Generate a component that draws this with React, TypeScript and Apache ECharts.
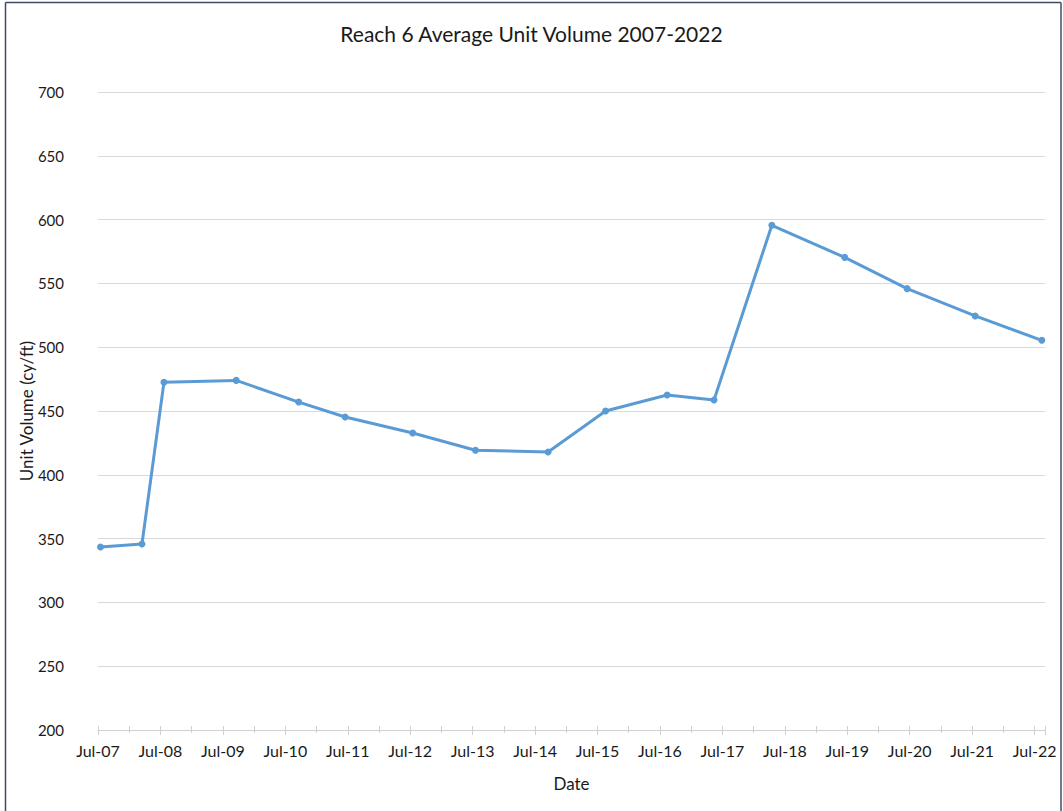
import React, { useEffect, useRef } from "react";
import * as echarts from "echarts";

const dates: string[] = [
  "2007-07-16", "2008-03-15", "2008-07-22", "2009-09-18", "2010-09-18",
  "2011-06-16", "2012-07-16", "2013-07-18", "2014-09-16", "2015-08-18",
  "2016-08-13", "2017-05-13", "2018-04-16", "2019-06-16", "2020-06-16",
  "2021-07-19", "2022-08-13",
];
const unitVolume: number[] = [
  343.4, 345.8, 472.5, 474.0, 457.0, 445.3, 432.8, 419.2, 417.9, 450.0,
  462.5, 458.6, 595.5, 570.4, 545.9, 524.5, 505.4,
];
const titleText = "Reach 6 Average Unit Volume 2007-2022";
const yAxisTitle = "Unit Volume (cy/ft)";
const xAxisTitle = "Date";
const monthNames = ["Jan","Feb","Mar","Apr","May","Jun","Jul","Aug","Sep","Oct","Nov","Dec"];

// months elapsed since 1 Jul 2007
function monthsSinceStart(d: string): number {
  const [y, m, day] = d.split("-").map(Number);
  const dim = new Date(y, m, 0).getDate();
  return (y - 2007) * 12 + (m - 7) + (day - 1) / dim;
}
function labelFor(v: number): string {
  const total = Math.round(v) + 6; // months since Jan 2007
  const y = 2007 + Math.floor(total / 12);
  const m = total % 12;
  return monthNames[m] + "-" + String(y % 100).padStart(2, "0");
}

const FONT = "Lato";
const TXT = "#1a1a1a";

export default function App() {
  const ref = useRef<HTMLDivElement>(null);
  useEffect(() => {
    document.body.style.margin = "0";
    if (!ref.current) return;
    const chart = echarts.init(ref.current, undefined, { renderer: "svg" });
    const data = dates.map((d, i) => [monthsSinceStart(d), unitVolume[i]]);
    const xCommon = {
      type: "value" as const,
      min: 0,
      max: 182,
      interval: 12,
    };
    chart.setOption({
      animation: false,
      backgroundColor: "#ffffff",
      textStyle: { fontFamily: FONT },
      title: {
        text: titleText,
        left: "center",
        top: 18,
        textStyle: { fontFamily: FONT, fontSize: 21, fontWeight: "normal", color: TXT },
      },
      grid: { left: 98, right: 18, top: 92, bottom: 81, containLabel: false },
      xAxis: [
        {
          ...xCommon,
          name: xAxisTitle,
          nameLocation: "middle",
          nameGap: 45,
          nameMoveOverlap: false,
          nameTextStyle: { fontFamily: FONT, fontSize: 17, color: TXT },
          axisLine: { show: true, lineStyle: { color: "#d0d0d0", width: 1 } },
          axisTick: { show: true, length: 5, lineStyle: { color: "#d0d0d0" } },
          minorTick: { show: true, splitNumber: 2, length: 3, lineStyle: { color: "#d0d0d0" } },
          axisLabel: {
            margin: 12,
            fontFamily: FONT,
            fontSize: 16,
            color: TXT,
            formatter: (v: number) => labelFor(v),
            showMaxLabel: false,
          },
          splitLine: { show: false },
        },
        {
          ...xCommon,
          position: "bottom",
          axisLine: { show: false },
          axisTick: { show: true, inside: true, length: 4, lineStyle: { color: "#d0d0d0" } },
          minorTick: { show: true, splitNumber: 2, length: 4, lineStyle: { color: "#d0d0d0" } },
          axisLabel: { show: false },
          splitLine: { show: false },
        },
      ],
      yAxis: {
        type: "value",
        min: 200,
        max: 700,
        interval: 50,
        name: yAxisTitle,
        nameLocation: "middle",
        nameGap: 63,
        nameMoveOverlap: false,
        nameRotate: 90,
        nameTextStyle: { fontFamily: FONT, fontSize: 17, color: TXT },
        axisLine: { show: false },
        axisTick: { show: false },
        axisLabel: { margin: 34, fontFamily: FONT, fontSize: 15, color: TXT },
        splitLine: { show: true, lineStyle: { color: "#d9d9d9", width: 1 } },
      },
      series: [
        {
          type: "line",
          xAxisIndex: 0,
          data,
          symbol: "circle",
          symbolSize: 7,
          lineStyle: { color: "#5b9bd5", width: 3 },
          itemStyle: { color: "#5b9bd5" },
        },
      ],
      graphic: [
        { type: "line", shape: { x1: 5.5, y1: 2.5, x2: 1061, y2: 2.5 }, style: { stroke: "#3f4d63", lineWidth: 1.5 } },
        { type: "line", shape: { x1: 5.5, y1: 2.5, x2: 5.5, y2: 811 }, style: { stroke: "#3f4d63", lineWidth: 1.5 } },
        { type: "line", shape: { x1: 1061, y1: 2.5, x2: 1061, y2: 811 }, style: { stroke: "#3f4d63", lineWidth: 1.5 } },
      ],
    });
    return () => chart.dispose();
  }, []);
  return <div ref={ref} style={{ width: 1063, height: 811 }} />;
}
